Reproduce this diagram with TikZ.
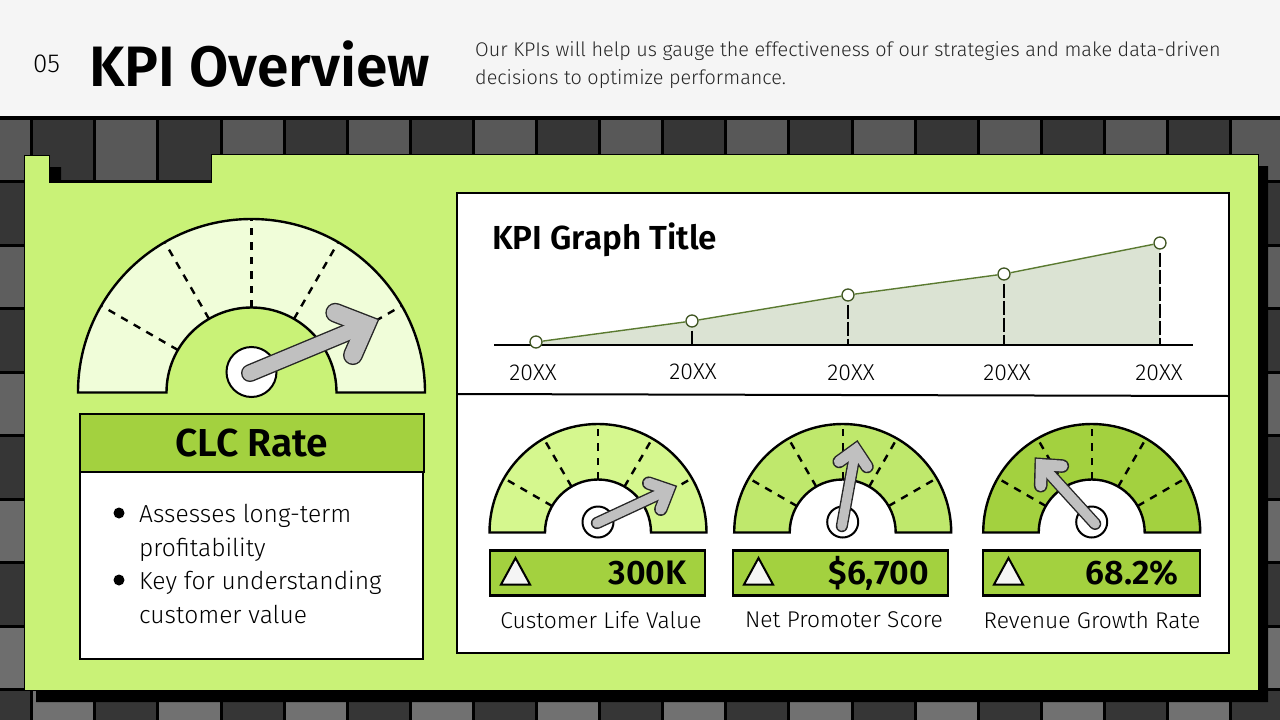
\documentclass[tikz,border=0pt]{standalone}
\usepackage{fontspec}
\setmainfont[BoldFont={Fira Sans SemiBold}]{Fira Sans}
\newfontfamily\lightfont{Fira Sans Light}
\usetikzlibrary{positioning}

\definecolor{paneGreen}{HTML}{C9F277}
\definecolor{barGreen}{HTML}{A3D13F}
\definecolor{faceA}{HTML}{F0FDD9}
\definecolor{faceB}{HTML}{D5F78E}
\definecolor{faceC}{HTML}{BFE86C}
\definecolor{headGray}{HTML}{F5F5F5}
\definecolor{needleGray}{HTML}{C0C0C0}
\definecolor{areaGray}{HTML}{DBE3D3}
\definecolor{lineOlive}{HTML}{5A7A30}

\tikzset{
	x=1pt,y=1pt,
	outline/.style={draw=black,line width=2.4pt},
	thinline/.style={draw=black,line width=2pt},
	gaugedash/.style={line width=#1,dash pattern=on 7.5pt off 7pt},
	hubdot/.style={circle,draw=black,line width=2pt,fill=white,inner sep=0pt},
	needlestroke/.style={line cap=round,line join=miter},
	valuebar/.style={draw=black,line width=2.4pt,fill=barGreen,inner sep=0pt,minimum width=215pt,minimum height=45pt},
	valuetext/.style={anchor=east,inner sep=0pt,font=\fontsize{34}{34}\selectfont\bfseries},
	smalllabel/.style={inner sep=0pt,font=\fontsize{22.8}{22.8}\selectfont\lightfont},
	yearlabel/.style={inner sep=0pt,font=\fontsize{23}{23}\selectfont\lightfont},
	bullettext/.style={anchor=base west,inner sep=0pt,font=\fontsize{24.6}{24.6}\selectfont\lightfont},
	chartdot/.style={circle,draw=lineOlive!70!black,line width=1.3pt,fill=white,inner sep=0pt,minimum size=12pt},
	chartdash/.style={line width=2pt,dash pattern=on 14pt off 3pt,shorten <=3pt},
	bulletdot/.style={circle,fill=black,inner sep=0pt,minimum size=11pt},
	deltatri/.style={draw=black,line width=2pt,fill=headGray,line join=miter},
}

% base x, base y, outer radius, inner radius, face colour, hub y, hub diameter, name
\newcommand{\gaugedial}[8]{
	\begin{scope}[shift={(#1,#2)}]
		\draw[outline,fill=#5] (-#3,0) arc (180:0:#3) -- (#4,0) arc (0:180:#4) -- cycle;
		\foreach \ang in {30,60,90,120,150}
			\draw[gaugedash=2.4pt] (\ang:#4) -- (\ang:#3);
	\end{scope}
	\node[hubdot,minimum size=#7] (#8) at (#1,#6) {};
}

% tail x, tail y, angle, scale
\newcommand{\gaugeneedle}[4]{
	\begin{scope}[shift={(#1,#2)},rotate=#3,scale=#4]
		\draw[needlestroke,black!85,line width=#4*15pt+2.8pt] (7.5,0) -- (125,0);
		\draw[needlestroke,black!85,line width=#4*17pt+2.8pt] (109.5,23) -- (133.5,0) -- (109.5,-23);
		\draw[needlestroke,needleGray,line width=#4*17pt] (109.5,23) -- (133.5,0) -- (109.5,-23);
		\draw[needlestroke,needleGray,line width=#4*15pt] (7.5,0) -- (125,0);
	\end{scope}
}

% apex x
\newcommand{\deltamark}[1]{
	\draw[deltatri] (#1,-558) -- (#1+14.5,-584.5) -- (#1-14.5,-584.5) -- cycle;
}

\begin{document}
\begin{tikzpicture}
	\useasboundingbox (0,0) rectangle (1280,-720);

	% backdrop tiles
	\begin{scope}
		\clip (0,0) rectangle (1280,-720);
		\fill[black] (0,-110) rectangle (1280,-720);
		\foreach \row in {0,...,9}
			\foreach \col in {0,...,20} {
				\pgfmathsetmacro{\xa}{-31.4+63.1*\col}
				\pgfmathsetmacro{\ya}{-118-63.5*\row}
				\pgfmathsetmacro{\shade}{int(mod(\row+\col,2))==0 ? 34.5+1.1*\row : 21}
				\fill[white!\shade!black] (\xa+1.5,\ya-1.5) rectangle (\xa+61.6,\ya-62);
			}
	\end{scope}

	% top band
	\fill[headGray] (0,0) rectangle (1280,-116);
	\node[anchor=west,inner sep=0pt,font=\fontsize{26}{26}\selectfont\lightfont] (pagenum) at (33,-64) {05};
	\node[anchor=west,inner sep=0pt,font=\fontsize{57}{57}\selectfont\bfseries] (pagetitle) at (89,-64) {KPI Overview};
	\node[anchor=west,inner sep=0pt,font=\fontsize{19.8}{19.8}\selectfont\lightfont,text=black!85] (introa) at (475,-51) {Our KPIs will help us gauge the effectiveness of our strategies and make data-driven};
	\node[anchor=west,inner sep=0pt,font=\fontsize{19.8}{19.8}\selectfont\lightfont,text=black!85] (introb) at (475,-79) {decisions to optimize performance.};

	% green tabbed sheet and its shadow
	\fill[black] (36,-167) -- (61,-167) -- (61,-194) -- (223,-194) -- (223,-166) -- (1268,-166) -- (1268,-702) -- (36,-702) -- cycle;
	\draw[fill=paneGreen,draw=black,line width=1pt] (24,-155) -- (49,-155) -- (49,-182) -- (211,-182) -- (211,-154) -- (1258,-154) -- (1258,-690) -- (24,-690) -- cycle;

	% left card
	\gaugedial{251.5}{-392.5}{173.5}{85}{faceA}{-372}{50pt}{mainhub}
	\gaugeneedle{243}{-376}{22.6}{1}

	\node[draw=black,line width=2.4pt,fill=white,minimum width=343pt,minimum height=187pt,inner sep=0pt] (clcbody) at (251.5,-565.5) {};
	\node[draw=black,line width=2.4pt,fill=barGreen,minimum width=344pt,minimum height=58pt,inner sep=0pt,font=\fontsize{39}{39}\selectfont\bfseries] (clcbar) at (252,-443) {CLC Rate};
	\node[bulletdot] (dota) at (119,-513) {};
	\node[bulletdot] (dotb) at (119,-580) {};
	\node[bullettext] (texta) at (139,-522) {Assesses long-term};
	\node[bullettext] (textb) at (139,-556) {profitability};
	\node[bullettext] (textc) at (139,-589) {Key for understanding};
	\node[bullettext] (textd) at (139,-623) {customer value};

	% right card
	\node[draw=black,line width=2.4pt,fill=white,minimum width=772pt,minimum height=460pt,inner sep=0pt] (rightcard) at (843,-423) {};
	\coordinate (splitl) at (457,-394);
	\coordinate (splitr) at (1229,-396);
	\draw[thinline] (splitl) -- (splitr);

	\node[anchor=west,inner sep=0pt,font=\fontsize{33.3}{33.3}\selectfont\bfseries] (charttitle) at (492,-240) {KPI Graph Title};

	\fill[areaGray] (536,-342) -- (692,-321) -- (848,-295) -- (1004,-274) -- (1160,-243) -- (1160,-345) -- (536,-345) -- cycle;
	\coordinate (axisl) at (494,-345);
	\coordinate (axisr) at (1193,-345);
	\draw[line width=2.4pt] (axisl) -- (axisr);

	\node[chartdot] (pa) at (536,-342) {};
	\node[chartdot] (pb) at (692,-321) {};
	\node[chartdot] (pc) at (848,-295) {};
	\node[chartdot] (pd) at (1004,-274) {};
	\node[chartdot] (pe) at (1160,-243) {};
	\draw[draw=lineOlive,line width=1.4pt] (pa) -- (pb) -- (pc) -- (pd) -- (pe);

	\coordinate (fb) at (692,-345);
	\coordinate (fc) at (848,-345);
	\coordinate (fd) at (1004,-345);
	\coordinate (fe) at (1160,-345);
	\draw[chartdash] (pb) -- (fb);
	\draw[chartdash] (pc) -- (fc);
	\draw[chartdash] (pd) -- (fd);
	\draw[chartdash] (pe) -- (fe);

	\node[yearlabel] (ya) at (533,-373) {20XX};
	\node[yearlabel] (yb) at (693,-372) {20XX};
	\node[yearlabel] (yc) at (851,-373) {20XX};
	\node[yearlabel] (yd) at (1007,-373) {20XX};
	\node[yearlabel] (ye) at (1159,-373) {20XX};

	% small gauges
	\gaugedial{598}{-532.5}{108.5}{53}{faceB}{-522}{31pt}{hubone}
	\gaugeneedle{592.7}{-525}{24.9}{0.625}
	\gaugedial{842.7}{-532.5}{108.5}{53}{faceC}{-522}{31pt}{hubtwo}
	\gaugeneedle{841}{-530.7}{79.7}{0.618}
	\gaugedial{1091.7}{-532.5}{108.5}{53}{barGreen}{-522}{31pt}{hubthree}
	\gaugeneedle{1098.3}{-527.3}{132.3}{0.635}

	\node[valuebar] (barone) at (597.5,-573) {};
	\node[valuebar] (bartwo) at (840.5,-573) {};
	\node[valuebar,minimum width=217pt] (barthree) at (1091.5,-573) {};
	\deltamark{515.5}
	\deltamark{758.5}
	\deltamark{1008.5}
	\node[valuetext] (valone) at (687,-573) {300K};
	\node[valuetext] (valtwo) at (929,-573) {\$6,700};
	\node[valuetext] (valthree) at (1179,-573) {68.2\%};

	\node[smalllabel] (labone) at (601,-620) {Customer Life Value};
	\node[smalllabel] (labtwo) at (844,-620) {Net Promoter Score};
	\node[smalllabel] (labthree) at (1092,-620) {Revenue Growth Rate};
\end{tikzpicture}
\end{document}
